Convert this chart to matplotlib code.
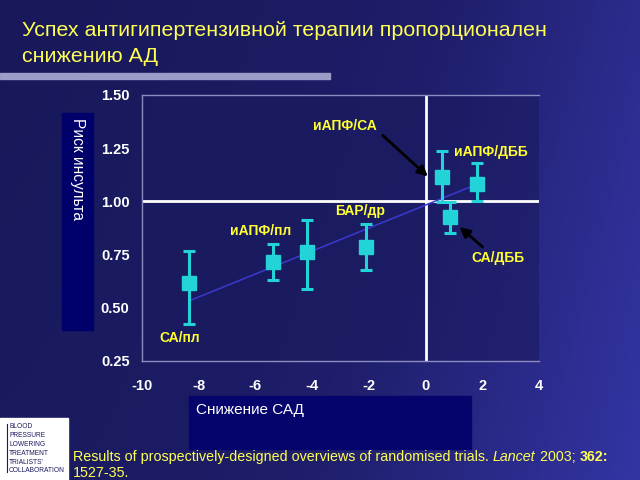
import numpy as np
import matplotlib
matplotlib.use("Agg")
import matplotlib.pyplot as plt
from matplotlib.patches import Rectangle
from matplotlib.colors import LinearSegmentedColormap

plt.rcParams['font.family'] = ['Liberation Sans', 'DejaVu Sans']

# data
sbp_drop = [-8.33, -5.38, -4.19, -2.09, 0.59, 0.85, 1.8]
stroke_risk = [0.615, 0.717, 0.764, 0.788, 1.115, 0.926, 1.083]
ci_low = [0.423, 0.63, 0.59, 0.678, 0.995, 0.851, 1.0]
ci_high = [0.767, 0.80, 0.912, 0.895, 1.236, 0.995, 1.18]
fit_x = [-8.33, 1.8]
fit_y = [0.533, 1.08]

xticks = [-10, -8, -6, -4, -2, 0, 2, 4]
yticks = [0.25, 0.50, 0.75, 1.00, 1.25, 1.50]

# label text, label position, arrow tip (None = no arrow)
labels = [
    ("иАПФ/СА", (-2.85, 1.352), (0.08, 1.117)),
    ("иАПФ/ДББ", (2.32, 1.234), None),
    ("БАР/др", (-2.32, 0.956), None),
    ("иАПФ/пл", (-5.81, 0.862), None),
    ("СА/пл", (-8.66, 0.357), None),
    ("СА/ДББ", (2.54, 0.735), (1.2, 0.88)),
]
arrow_tails = {"иАПФ/СА": (-1.51, 1.31), "СА/ДББ": (2.01, 0.786)}

W, H = 640, 480
fig = plt.figure(figsize=(6.4, 4.8), dpi=100)

# background gradient
bg = fig.add_axes([0, 0, 1, 1], zorder=-10)
cmap = LinearSegmentedColormap.from_list("bg", ["#18185a", "#1e1e6a", "#3434a4"])
gx = np.linspace(0, 1, 256)
gy = np.linspace(0, 1, 256)
grad = 0.8 * gx[None, :] ** 1.3 + 0.2 * gy[:, None]
bg.imshow(grad, cmap=cmap, aspect='auto', extent=[0, 1, 0, 1], origin='upper')
bg.set_xlim(0, 1)
bg.set_ylim(0, 1)
bg.axis('off')


def px(x, y):
    return x / W, 1 - y / H


def box(x0, y0, x1, y1, color, z=1):
    fig.patches.append(Rectangle((x0 / W, 1 - y1 / H), (x1 - x0) / W, (y1 - y0) / H,
                                 transform=fig.transFigure, color=color, zorder=z))


# title
fig.text(*px(22, 30), "Успех антигипертензивной терапии пропорционален",
         color="#ffff55", fontsize=15.4, va='center', ha='left')
fig.text(*px(22, 57), "снижению АД", color="#ffff55", fontsize=15.4, va='center', ha='left')
box(0, 73, 330, 79, "#9c9cc8")

# axis label boxes
box(62, 113, 93, 330, "#00006a")
fig.text(*px(77, 118), "Риск инсульта", color="white", fontsize=11.2,
         rotation=270, ha='center', va='top')
box(189, 396, 471, 449, "#04046c")
fig.text(*px(196, 410), "Снижение САД", color="white", fontsize=11, ha='left', va='center')

# main axes
l, t, r, b = 142, 95, 539, 361
ax = fig.add_axes([l / W, 1 - b / H, (r - l) / W, (b - t) / H])
ax.set_facecolor("#1a1a5e")
ax.patch.set_alpha(0.6)
ax.set_xlim(-10, 4)
ax.set_ylim(0.25, 1.5)
ax.set_xticks(xticks)
ax.set_yticks(yticks)
ax.set_xticklabels([str(v) for v in xticks])
ax.set_yticklabels(["%.2f" % v for v in yticks])
ax.tick_params(length=0, colors="white", labelsize=10.5)
ax.tick_params(axis='x', pad=13)
ax.tick_params(axis='y', pad=9)
for lab in ax.get_xticklabels() + ax.get_yticklabels():
    lab.set_fontweight('bold')
for s in ['left', 'top', 'bottom']:
    ax.spines[s].set_color("#8c8cc0")
    ax.spines[s].set_linewidth(1)
ax.spines['right'].set_visible(False)

ax.axhline(1.0, color="white", lw=2, zorder=2)
ax.axvline(0, color="white", lw=2, zorder=2)
ax.plot(fit_x, fit_y, color="#3a3ad0", lw=1.1, zorder=3)

yerr = [np.array(stroke_risk) - np.array(ci_low), np.array(ci_high) - np.array(stroke_risk)]
ax.errorbar(sbp_drop, stroke_risk, yerr=yerr, fmt='s', color="#22d4d8", ecolor="#22d4d8",
            markersize=10, elinewidth=2.2, capsize=4.5, capthick=2.2, zorder=4)

for name, pos, tip in labels:
    ax.text(pos[0], pos[1], name, color="#ffff33", fontsize=10, fontweight='bold',
            ha='center', va='center', zorder=5)
    if tip is not None:
        ax.annotate("", xy=tip, xytext=arrow_tails[name],
                    arrowprops=dict(arrowstyle='-|>', color='black', lw=2,
                                    mutation_scale=15, shrinkA=0, shrinkB=0), zorder=5)

# logo
box(0, 418, 68, 480, "white", z=2)
fig.lines.append(plt.Line2D([7 / W, 7 / W], [1 - 424 / H, 1 - 472 / H],
                            transform=fig.transFigure, color="#1a1a5e", lw=0.8, zorder=3))
logo = ["BLOOD", "PRESSURE", "LOWERING", "TREATMENT", "TRIALISTS'", "COLLABORATION"]
for i, w in enumerate(logo):
    fig.text(*px(9, 427 + i * 8.8), w, color="#1a1a5e", fontsize=4.8,
             ha='left', va='center', zorder=4)

# citation with mixed styles
renderer = fig.canvas.get_renderer()
parts = [("Results of prospectively-designed overviews of randomised trials. ", 'normal', 'normal'),
         ("Lancet", 'italic', 'normal'), (" 2003; ", 'normal', 'normal'), ("362:", 'normal', 'bold')]
xpos = 73
for txt, style, weight in parts:
    tt = fig.text(*px(xpos, 457), txt, color="#ffff55", fontsize=10.3, style=style,
                  fontweight=weight, ha='left', va='center')
    bb = tt.get_window_extent(renderer=renderer)
    xpos += bb.width
fig.text(*px(73, 473), "1527-35.", color="#ffff55", fontsize=10.3, ha='left', va='center')

fig.savefig("out.png", dpi=100)
